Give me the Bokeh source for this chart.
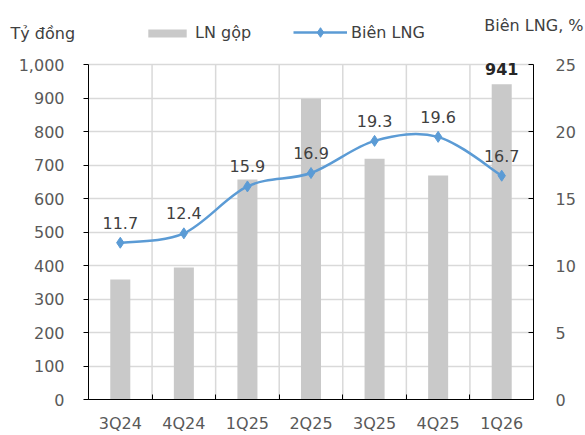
from bokeh.plotting import figure
from bokeh.layouts import column, row
from bokeh.models import (Range1d, LinearAxis, FixedTicker, Legend, LegendItem,
                          Label, ColumnDataSource, NumeralTickFormatter)
from bokeh.core.properties import value
from bokeh.embed import file_html
from bokeh.resources import INLINE

quarters = ["3Q24", "4Q24", "1Q25", "2Q25", "3Q25", "4Q25", "1Q26"]
gross_profit = [358, 394, 657, 898, 719, 669, 941]         # LN gộp, tỷ đồng
gross_margin = [11.7, 12.4, 15.9, 16.9, 19.3, 19.6, 16.7]  # Biên LNG, %

FONT = "DejaVu Sans"
TICK_COLOR = "#595959"
TEXT_COLOR = "#404040"
BAR_COLOR = "#c9c9c9"
LINE_COLOR = "#5b9bd5"
GRID_COLOR = "#d9d9d9"

W = 585
HEAD_H = 46          # header strip with legend and axis titles
MAIN_H = 435 - HEAD_H
FRAME_H = 353        # plot frame height (extends a bit above the 1,000 line)
AXIS_H = 335         # pixel height of the 0..1,000 span
Y_MAX = 1000
PCT_MAX = 25

n = len(quarters)
xc = [i + 0.5 for i in range(n)]

# ---------------- main chart ----------------
p = figure(width=W, height=MAIN_H, output_backend="svg", toolbar_location=None,
           x_range=Range1d(0, n), y_range=Range1d(0, Y_MAX * FRAME_H / AXIS_H),
           min_border_left=88, min_border_right=52, min_border_top=0,
           min_border_bottom=MAIN_H - FRAME_H, x_axis_location=None, y_axis_location=None)
p.outline_line_color = None
p.background_fill_color = "white"
p.border_fill_color = "white"
p.extra_y_ranges = {"pct": Range1d(0, PCT_MAX * FRAME_H / AXIS_H)}

# horizontal grid every 100, vertical separators between quarters
p.xgrid.visible = False
p.ygrid.ticker = FixedTicker(ticks=list(range(100, Y_MAX + 1, 100)))
p.ygrid.grid_line_color = GRID_COLOR
p.ygrid.grid_line_width = 1.5
sep = list(range(1, n))
p.segment(x0=sep, y0=[0] * len(sep), x1=sep, y1=[Y_MAX] * len(sep),
          line_color=GRID_COLOR, line_width=1.5)

# axes
left = LinearAxis(ticker=FixedTicker(ticks=list(range(0, Y_MAX + 1, 100))),
                  formatter=NumeralTickFormatter(format="0,0"), bounds=(0, Y_MAX))
left.major_tick_out = 5
left.major_tick_in = 0
left.major_label_standoff = 19
p.add_layout(left, "left")

right = LinearAxis(y_range_name="pct", ticker=FixedTicker(ticks=list(range(0, PCT_MAX + 1, 5))),
                   bounds=(0, PCT_MAX))
right.major_tick_in = 5
right.major_tick_out = 0
right.major_label_standoff = 22
p.add_layout(right, "right")

bottom = LinearAxis(ticker=FixedTicker(ticks=xc, minor_ticks=list(range(0, n + 1))))
bottom.major_label_overrides = {x: q for x, q in zip(xc, quarters)}
bottom.major_tick_in = 0
bottom.major_tick_out = 0
bottom.minor_tick_in = 5
bottom.minor_tick_out = 0
bottom.major_label_standoff = 14
p.add_layout(bottom, "below")

for ax in (left, right, bottom):
    ax.axis_line_color = "black"
    ax.major_tick_line_color = "black"
    ax.minor_tick_line_color = "black"
    ax.major_label_text_font = FONT
    ax.major_label_text_font_size = "16px"
    ax.major_label_text_color = TICK_COLOR
left.minor_tick_out = 0
right.minor_tick_out = 0

# bars
p.vbar(x=xc, top=gross_profit, width=0.315, fill_color=BAR_COLOR, line_color=None)

# smoothed margin line (Catmull-Rom through the points, as cubic Bezier segments)
pts = list(zip(xc, gross_margin))
bz = dict(x0=[], y0=[], x1=[], y1=[], cx0=[], cy0=[], cx1=[], cy1=[])
for i in range(n - 1):
    p0 = pts[max(i - 1, 0)]
    p1 = pts[i]
    p2 = pts[i + 1]
    p3 = pts[min(i + 2, n - 1)]
    bz["x0"].append(p1[0]); bz["y0"].append(p1[1])
    bz["x1"].append(p2[0]); bz["y1"].append(p2[1])
    bz["cx0"].append(p1[0] + (p2[0] - p0[0]) / 6); bz["cy0"].append(p1[1] + (p2[1] - p0[1]) / 6)
    bz["cx1"].append(p2[0] - (p3[0] - p1[0]) / 6); bz["cy1"].append(p2[1] - (p3[1] - p1[1]) / 6)
p.bezier(source=ColumnDataSource(bz), x0="x0", y0="y0", x1="x1", y1="y1",
         cx0="cx0", cy0="cy0", cx1="cx1", cy1="cy1",
         line_color=LINE_COLOR, line_width=2.5, y_range_name="pct")
p.scatter(x=xc, y=gross_margin, marker="diamond", size=11,
          fill_color=LINE_COLOR, line_color=LINE_COLOR, y_range_name="pct")

# data labels
p.text(x=xc, y=gross_margin, text=[f"{v:.1f}" for v in gross_margin],
       y_range_name="pct", text_align="center", text_baseline="alphabetic",
       y_offset=-20, text_font=value(FONT), text_font_size="16px", text_color=TEXT_COLOR)
p.text(x=[xc[-1]], y=[gross_profit[-1]], text=[f"{gross_profit[-1]:,}"],
       text_align="center", text_baseline="alphabetic", y_offset=-15,
       text_font=value(FONT), text_font_size="16px", text_font_style="bold",
       text_color="#262626")

# ---------------- header: legend and axis titles ----------------
h = figure(width=W, height=HEAD_H, output_backend="svg", toolbar_location=None,
           x_range=Range1d(0, W), y_range=Range1d(HEAD_H, 0),
           min_border=0, min_border_left=0, min_border_right=0,
           min_border_top=0, min_border_bottom=0,
           x_axis_location=None, y_axis_location=None)
h.outline_line_color = None
h.grid.visible = False
h.background_fill_color = "white"
h.border_fill_color = "white"

# legend keys: proxies placed off the visible header range
key_bar = h.vbar(x=[-1000], top=[0], width=1, fill_color=BAR_COLOR, line_color=None)
key_line = h.line(x=[-1000, -999], y=[0, 0], line_color=LINE_COLOR, line_width=2.5)
key_mark = h.scatter(x=[-1000], y=[0], marker="diamond", size=11,
                     fill_color=LINE_COLOR, line_color=LINE_COLOR)


def styled_legend(items, loc, glyph_w, glyph_h):
    lg = Legend(items=items, orientation="horizontal", location=loc)
    lg.glyph_width = glyph_w
    lg.glyph_height = glyph_h
    lg.label_standoff = 4
    lg.padding = 0
    lg.margin = 0
    lg.border_line_color = None
    lg.background_fill_alpha = 0
    lg.label_text_font = FONT
    lg.label_text_font_size = "16px"
    lg.label_text_color = TEXT_COLOR
    return lg


h.add_layout(styled_legend([LegendItem(label="LN gộp", renderers=[key_bar])],
                           (143, 4), 48, 10), "center")
h.add_layout(styled_legend([LegendItem(label="Biên LNG", renderers=[key_line, key_mark])],
                           (293, 2), 54, 24), "center")

h.add_layout(Label(x=10, y=33, text="Tỷ đồng", text_baseline="alphabetic",
                   text_font=FONT, text_font_size="16px", text_color=TEXT_COLOR))
h.add_layout(Label(x=583, y=25, text="Biên LNG, %", text_align="right",
                   text_baseline="alphabetic", text_font=FONT, text_font_size="16px",
                   text_color=TEXT_COLOR))

layout = column(row(h), p, spacing=0)
open("out.html", "w").write(file_html(layout, INLINE))
